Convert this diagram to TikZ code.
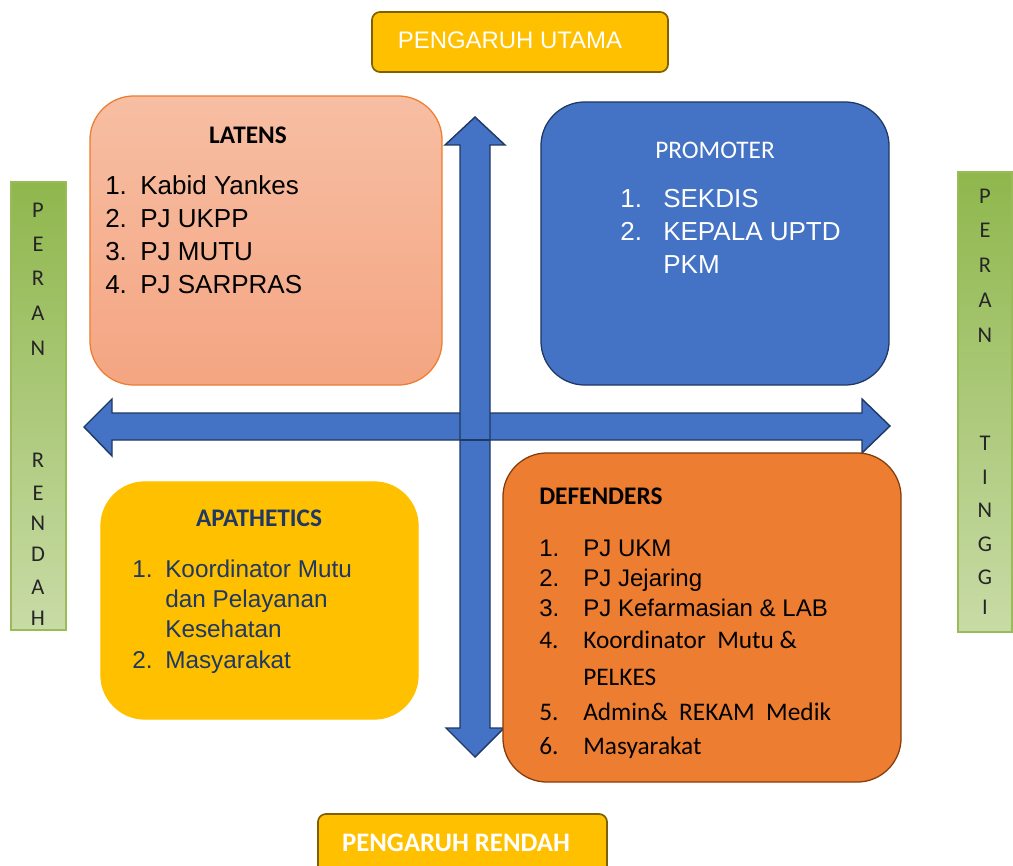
\documentclass[tikz,border=0pt]{standalone}
\usepackage{fontspec}
\setmainfont{Liberation Sans}
\newfontfamily\calibri{Carlito}
\usepackage{tikz}

\definecolor{gold}{HTML}{FFC000}
\definecolor{goldedge}{HTML}{7F6000}
\definecolor{bluefill}{HTML}{4472C4}
\definecolor{navy}{HTML}{1F3864}
\definecolor{orangefill}{HTML}{ED7D31}
\definecolor{orangeedge}{HTML}{843C0C}
\definecolor{peachtop}{HTML}{F7BEA3}
\definecolor{peachbot}{HTML}{F4A582}
\definecolor{greentop}{HTML}{8FB74D}
\definecolor{greenbot}{HTML}{C8DBA6}
\definecolor{greenedge}{HTML}{9BBB59}

\begin{document}
\begin{tikzpicture}[x=0.025cm,y=-0.025cm,
  quad/.style={rounded corners=1.1cm,line width=0.9pt},
  tab/.style={rounded corners=0.2cm,fill=gold,draw=goldedge,line width=1.2pt},
  bar/.style={top color=greentop,bottom color=greenbot,draw=greenedge,line width=1.4pt},
  head/.style={font=\calibri\bfseries\fontsize{18}{22}\selectfont,inner sep=0pt},
  item/.style={anchor=base west,inner sep=0pt,font=\fontsize{18.5}{22}\selectfont}]
\tikzstyle{block} = [fill=bluefill, draw=navy, line width=1pt, line join=miter]
\tikzstyle{letter} = [font=\calibri\fontsize{16}{18}\selectfont, text=black!85, inner sep=0pt]

\useasboundingbox (0,0) rectangle (1013,866);

% side bars
\node[bar,minimum width=1.375cm,minimum height=11.2cm] (lowbar) at (38.5,406) {};
\node[bar,minimum width=1.35cm,minimum height=11.5cm] (highbar) at (985,402) {};
\foreach \ch/\y [count=\i] in {P/210,E/244,R/278,A/313,N/348,R/460,E/493,N/523,D/554,A/587,H/618}
  \node[letter] (lo\i) at (38,\y) {\ch};
\foreach \ch/\y [count=\i] in {P/196,E/230,R/265,A/300,N/335,T/443,I/477,N/510,G/544,G/577,I/607}
  \node[letter] (hi\i) at (985,\y) {\ch};

% axes
\draw[block] (84,427) -- (112,399) -- (112,413) -- (862,413) -- (862,399) -- (890,426)
  -- (862,453) -- (862,440) -- (112,440) -- (112,456) -- cycle;
\draw[block] (475,117) -- (505,145) -- (490,145) -- (490,728) -- (504,728) -- (475,757)
  -- (446,728) -- (460,728) -- (460,145) -- (445,145) -- cycle;
\draw[navy,line width=1pt] (460,440) -- (490,440);

% top and bottom labels
\node[tab,minimum width=7.4cm,minimum height=1.5cm] (utama) at (520,42) {};
\node[text=white,font=\fontsize{17}{20}\selectfont] (utamaT) at (510,40) {PENGARUH UTAMA};
\node[tab,minimum width=7.225cm,minimum height=1.65cm] (rendah) at (462.5,847) {};
\node[head,text=white,font=\calibri\bfseries\fontsize{19}{22}\selectfont] (rendahT) at (456,843) {PENGARUH RENDAH};

% latens
\node[quad,top color=peachtop,bottom color=peachbot,draw=orangefill,minimum width=8.8cm,minimum height=7.225cm] (latens) at (266,240.5) {};
\node[head] (latT) at (248,135) {LATENS};
\foreach \txt [count=\i] in {Kabid Yankes,PJ UKPP,PJ MUTU,PJ SARPRAS}
  \node[item] (lat\i) at (105,{162+33*\i}) {\makebox[0.875cm][l]{\i.}\txt};

% promoter
\node[quad,fill=bluefill,draw=navy,minimum width=8.7cm,minimum height=7.075cm] (promoter) at (715,243.5) {};
\node[head,font=\calibri\fontsize{18}{22}\selectfont,text=white] (proT) at (715,150) {PROMOTER};
\foreach \nr/\txt/\y [count=\i] in {1./SEKDIS/208,2./KEPALA UPTD/241,/PKM/274}
  \node[item,text=white] (pro\i) at (620,\y) {\makebox[1.075cm][l]{\nr}\txt};

% apathetics
\node[quad,fill=gold,draw=gold,minimum width=7.925cm,minimum height=5.925cm] (apathetics) at (259.5,600.5) {};
\node[head,text=navy] (apaT) at (259,518) {APATHETICS};
\foreach \nr/\txt/\y [count=\i] in {1./Koordinator Mutu/577,/dan Pelayanan/607,/Kesehatan/637,2./Masyarakat/668}
  \node[item,text=navy,font=\fontsize{17.3}{20}\selectfont] (apa\i) at (132,\y) {\makebox[0.825cm][l]{\nr}\txt};

% defenders
\node[quad,fill=orangefill,draw=orangeedge,minimum width=9.95cm,minimum height=8.225cm] (defenders) at (702,617.5) {};
\node[head,anchor=west] (defT) at (539,496) {DEFENDERS};
\foreach \nr/\txt/\y [count=\i] in {1./PJ UKM/556,2./PJ Jejaring/586,3./PJ Kefarmasian \& LAB/616}
  \node[item,font=\fontsize{17.1}{20}\selectfont] (def\i) at (539,\y) {\makebox[1.1cm][l]{\nr}\txt};
\foreach \nr/\txt/\y [count=\i from 4] in {4./Koordinator\ \ Mutu \&/648,/PELKES/685,5./Admin\&\ \ REKAM\ \ Medik/720,6./Masyarakat/754}
  \node[item,font=\calibri\fontsize{18}{20}\selectfont] (def\i) at (539,\y) {\makebox[1.1cm][l]{\nr}\txt};

\end{tikzpicture}
\end{document}
